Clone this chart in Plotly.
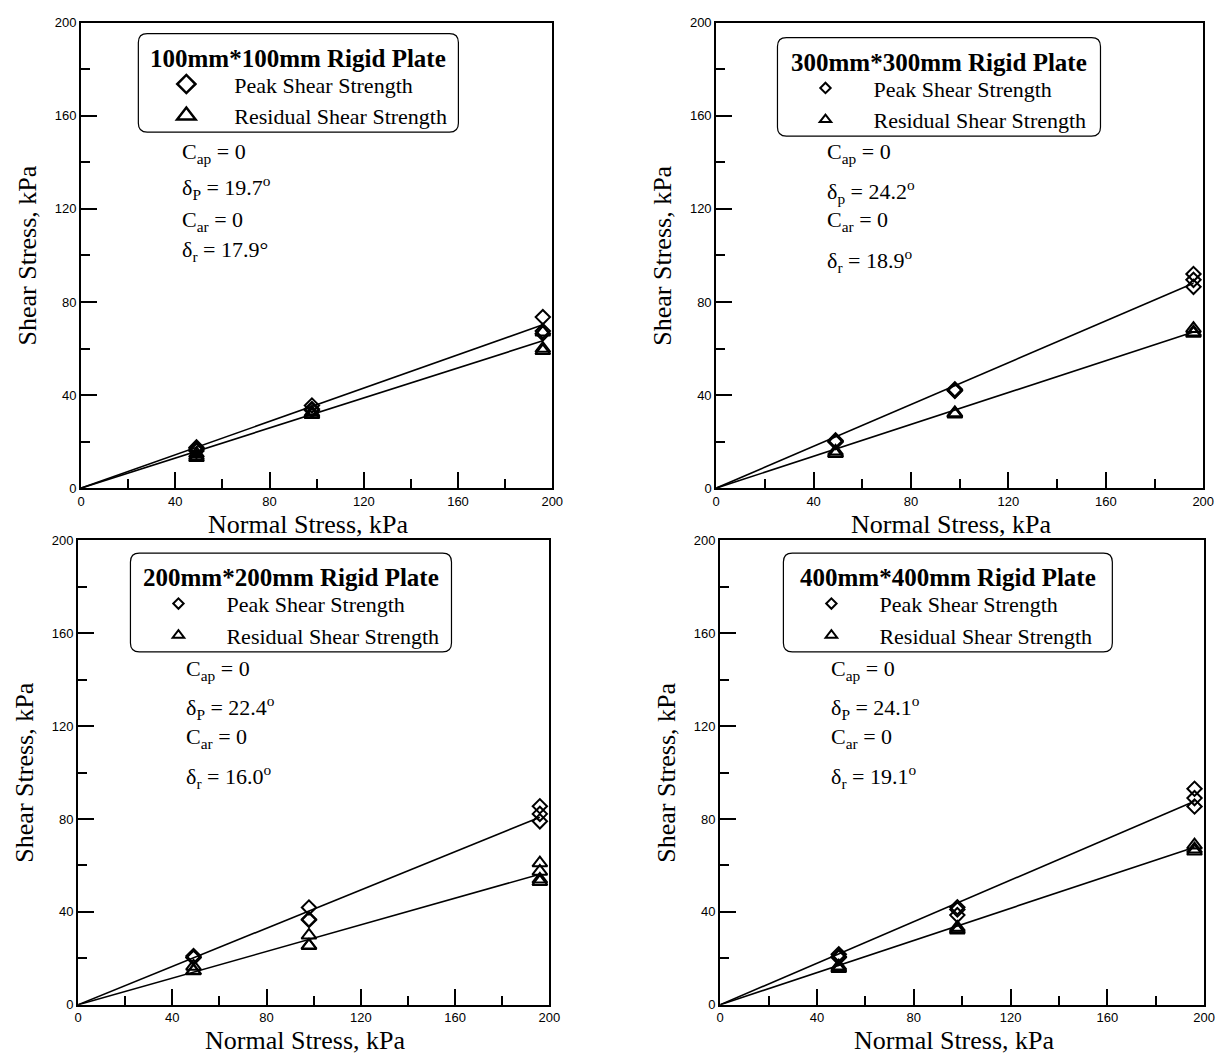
import math
import plotly.graph_objects as go

# ---------------- data ----------------
PLATES = ["100mm*100mm Rigid Plate", "300mm*300mm Rigid Plate",
          "200mm*200mm Rigid Plate", "400mm*400mm Rigid Plate"]

# normal stress (kPa) of each test and measured shear strength (kPa)
p1_peak_x = [49, 49, 49, 98, 98, 98, 196, 196, 196]
p1_peak_y = [17.5, 16.8, 16.0, 35.5, 34.0, 33.5, 73.5, 67.5, 66.5]
p1_res_x = [49, 49, 49, 98, 98, 98, 196, 196, 196]
p1_res_y = [14.8, 13.8, 13.0, 32.5, 31.8, 31.5, 67.0, 60.0, 59.0]

p2_peak_x = [49, 49, 49, 98, 98, 98, 196, 196, 196]
p2_peak_y = [20.5, 20.0, 19.8, 42.5, 42.0, 41.8, 92.0, 89.5, 86.5]
p2_res_x = [49, 49, 49, 98, 98, 98, 196, 196, 196]
p2_res_y = [15.8, 15.0, 14.8, 32.3, 32.0, 31.8, 68.5, 67.0, 66.5]

p3_peak_x = [49, 49, 49, 98, 98, 98, 196, 196, 196]
p3_peak_y = [21.0, 20.5, 20.2, 41.9, 36.8, 36.5, 85.5, 82.2, 79.0]
p3_res_x = [49, 49, 49, 98, 98, 98, 196, 196, 196, 196]
p3_res_y = [16.5, 14.7, 14.5, 29.9, 25.6, 25.4, 61.0, 57.4, 54.0, 53.0]

p4_peak_x = [49, 49, 49, 98, 98, 98, 196, 196, 196]
p4_peak_y = [21.7, 20.8, 20.3, 42.0, 41.0, 38.6, 93.0, 89.0, 85.4]
p4_res_x = [49, 49, 49, 98, 98, 98, 196, 196, 196]
p4_res_y = [16.6, 16.0, 15.5, 33.3, 32.6, 32.1, 68.7, 67.0, 66.1]

# Mohr-Coulomb fit parameters
C_PEAK = [0, 0, 0, 0]
C_RES = [0, 0, 0, 0]
DELTA_PEAK = [19.7, 24.2, 22.4, 24.1]
DELTA_RES = [17.9, 18.9, 16.0, 19.1]
FIT_X = [0, 196]

LABEL_CAP = ["C<sub>ap</sub> = 0"] * 4
LABEL_DP = ["δ<sub>P</sub> = 19.7<sup>o</sup>", "δ<sub>p</sub> = 24.2<sup>o</sup>",
            "δ<sub>P</sub> = 22.4<sup>o</sup>", "δ<sub>P</sub> = 24.1<sup>o</sup>"]
LABEL_CAR = ["C<sub>ar</sub> = 0"] * 4
LABEL_DR = ["δ<sub>r</sub> = 17.9°", "δ<sub>r</sub> = 18.9<sup>o</sup>",
            "δ<sub>r</sub> = 16.0<sup>o</sup>", "δ<sub>r</sub> = 19.1<sup>o</sup>"]

TICKS = [0, 40, 80, 120, 160, 200]
X_TITLE = "Normal Stress, kPa"
Y_TITLE = "Shear Stress, kPa"

# ---------------- layout / style ----------------
W, H = 1232, 1064
SERIF = "Liberation Serif"
SANS = "Liberation Sans"

# plot areas in px: (left, right, top, bottom)
AREAS = [(78, 555, 16, 488), (721, 1214, 16, 488),
         (75, 552, 541, 1012), (725, 1215, 541, 1012)]
# legend boxes in px: (left, right, top, bottom)
BOXES = [(136, 460, 27, 127), (783, 1110, 31, 131),
         (128, 453, 554, 654), (789, 1122, 554, 654)]
# annotation positions (x, y list) in data units
ANN_X = [42, 44.5, 45, 45]
ANN_Y = [[144, 129, 115, 101.7], [144, 127.5, 115, 98],
         [144, 128, 115, 98.5], [144, 128, 115, 98.5]]
LEG_MARK = [(14, 17, 2.5), (8, 10, 2), (8, 10, 2), (8, 10, 2)]

peaks = [(p1_peak_x, p1_peak_y), (p2_peak_x, p2_peak_y), (p3_peak_x, p3_peak_y), (p4_peak_x, p4_peak_y)]
ress = [(p1_res_x, p1_res_y), (p2_res_x, p2_res_y), (p3_res_x, p3_res_y), (p4_res_x, p4_res_y)]

fig = go.Figure()
layout = dict(width=W, height=H, margin=dict(l=0, r=0, t=0, b=0),
              paper_bgcolor="white", plot_bgcolor="white", showlegend=True)
shapes, annotations = [], []

for i in range(4):
    n = "" if i == 0 else str(i + 1)
    xa, ya = "x" + n, "y" + n
    leg = "legend" + n
    l, r, t, b = AREAS[i]
    axstyle = dict(range=[0, 200], tickvals=TICKS, ticks="inside", ticklen=16, tickwidth=1.5,
                   tickcolor="black", showline=True, linecolor="black", linewidth=2, mirror=True,
                   showgrid=False, zeroline=False,
                   tickfont=dict(family=SANS, size=13, color="black"),
                   minor=dict(dtick=20, ticks="inside", ticklen=9, tickwidth=1.5, tickcolor="black", showgrid=False))
    layout["xaxis" + n] = dict(axstyle, domain=[l / W, r / W], anchor=ya)
    layout["yaxis" + n] = dict(axstyle, domain=[1 - b / H, 1 - t / H], anchor=xa)

    # fit lines
    yp = [C_PEAK[i] + math.tan(math.radians(DELTA_PEAK[i])) * x for x in FIT_X]
    yr = [C_RES[i] + math.tan(math.radians(DELTA_RES[i])) * x for x in FIT_X]
    fig.add_trace(go.Scatter(x=FIT_X, y=yp, mode="lines", line=dict(color="black", width=1.6),
                             xaxis=xa, yaxis=ya, showlegend=False, hoverinfo="skip"))
    fig.add_trace(go.Scatter(x=FIT_X, y=yr, mode="lines", line=dict(color="black", width=1.6),
                             xaxis=xa, yaxis=ya, showlegend=False, hoverinfo="skip"))
    # data
    fig.add_trace(go.Scatter(x=peaks[i][0], y=peaks[i][1], mode="markers", xaxis=xa, yaxis=ya,
                             marker=dict(symbol="diamond-open", size=11, color="black", line=dict(width=2)),
                             showlegend=False, name="Peak Shear Strength"))
    fig.add_trace(go.Scatter(x=ress[i][0], y=ress[i][1], mode="markers", xaxis=xa, yaxis=ya,
                             marker=dict(symbol="triangle-up-open", size=13, color="black", line=dict(width=2)),
                             showlegend=False, name="Residual Shear Strength"))
    # legend entries
    ds, ts, lw = LEG_MARK[i]
    fig.add_trace(go.Scatter(x=[None], y=[None], mode="markers", xaxis=xa, yaxis=ya, legend=leg,
                             name="Peak Shear Strength",
                             marker=dict(symbol="diamond-open", size=ds, color="black", line=dict(width=lw))))
    fig.add_trace(go.Scatter(x=[None], y=[None], mode="markers", xaxis=xa, yaxis=ya, legend=leg,
                             name="Residual Shear Strength",
                             marker=dict(symbol="triangle-up-open", size=ts, color="black", line=dict(width=lw))))

    bl, br, bt, bb = BOXES[i]
    layout[leg] = dict(x=bl / W, y=1 - (bt + 30) / H, xref="paper", yref="paper",
                       xanchor="left", yanchor="top",
                       bgcolor="rgba(0,0,0,0)", borderwidth=0, itemwidth=86, tracegroupgap=0,
                       font=dict(family=SERIF, size=22, color="black"))
    # legend heading
    annotations.append(dict(text="<b>" + PLATES[i] + "</b>", x=(bl + br) / 2 / W, y=1 - (bt + 25) / H,
                            xref="paper", yref="paper", xanchor="center", yanchor="middle",
                            showarrow=False, font=dict(family=SERIF, size=25, color="black")))
    # rounded legend frame
    rad = 9
    X = lambda px: px / W
    Y = lambda py: 1 - py / H
    path = (f"M {X(bl + rad)} {Y(bt)} L {X(br - rad)} {Y(bt)} Q {X(br)} {Y(bt)} {X(br)} {Y(bt + rad)} "
            f"L {X(br)} {Y(bb - rad)} Q {X(br)} {Y(bb)} {X(br - rad)} {Y(bb)} "
            f"L {X(bl + rad)} {Y(bb)} Q {X(bl)} {Y(bb)} {X(bl)} {Y(bb - rad)} "
            f"L {X(bl)} {Y(bt + rad)} Q {X(bl)} {Y(bt)} {X(bl + rad)} {Y(bt)} Z")
    shapes.append(dict(type="path", path=path, xref="paper", yref="paper",
                       line=dict(color="black", width=1.2), layer="above"))

    # parameter annotations
    for txt, yy in zip([LABEL_CAP[i], LABEL_DP[i], LABEL_CAR[i], LABEL_DR[i]], ANN_Y[i]):
        annotations.append(dict(text=txt, x=ANN_X[i], y=yy, xref=xa, yref=ya, xanchor="left",
                                yanchor="middle", showarrow=False,
                                font=dict(family=SERIF, size=22, color="black")))
    # axis titles
    annotations.append(dict(text=X_TITLE, x=0.5, y=0, xref=xa + " domain", yref=ya + " domain",
                            xanchor="center", yanchor="middle", xshift=-8, yshift=-36, showarrow=False,
                            font=dict(family=SERIF, size=26, color="black")))
    annotations.append(dict(text=Y_TITLE, x=0, y=0.5, xref=xa + " domain", yref=ya + " domain",
                            xanchor="center", yanchor="middle", xshift=-54, textangle=-90, showarrow=False,
                            font=dict(family=SERIF, size=26, color="black")))

layout["shapes"] = shapes
layout["annotations"] = annotations
fig.update_layout(**layout)
fig.write_html("out.html")
